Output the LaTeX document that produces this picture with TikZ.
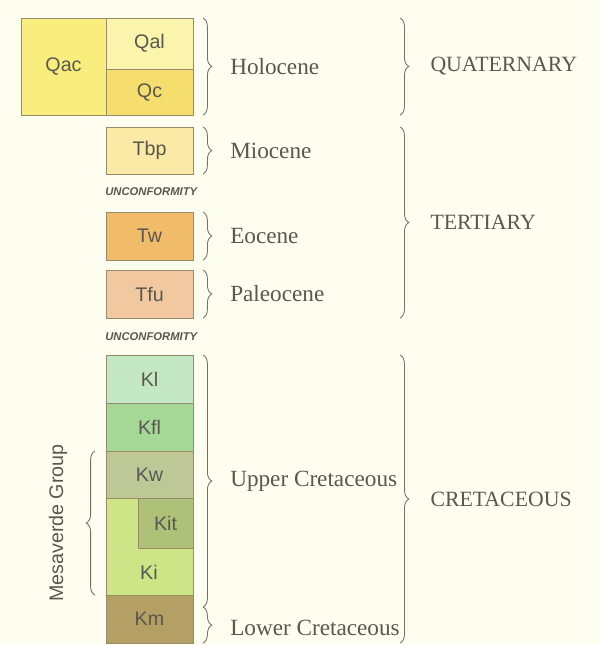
\documentclass[tikz,border=0pt]{standalone}
\usepackage{fontspec}
\setmainfont{Liberation Serif}
\setsansfont{Liberation Sans}
\usetikzlibrary{positioning, decorations.pathreplacing}

\definecolor{paper}{RGB}{253,253,240}
\definecolor{ink}{RGB}{88,88,80}
\definecolor{edge}{RGB}{150,140,105}
\definecolor{qaccol}{RGB}{249,238,125}
\definecolor{qalcol}{RGB}{250,244,172}
\definecolor{qccol}{RGB}{246,222,110}
\definecolor{tbpcol}{RGB}{250,234,165}
\definecolor{twcol}{RGB}{240,188,105}
\definecolor{tfucol}{RGB}{242,200,160}
\definecolor{klcol}{RGB}{195,232,195}
\definecolor{kflcol}{RGB}{165,215,150}
\definecolor{kwcol}{RGB}{190,200,150}
\definecolor{kicol}{RGB}{205,228,135}
\definecolor{kitcol}{RGB}{175,192,120}
\definecolor{kmcol}{RGB}{180,160,100}

\tikzstyle{unit} = [rectangle, draw=edge, line width=0.7pt, minimum width=2.175cm,
  minimum height=1.2cm, inner sep=0pt, outer sep=0pt, text=ink,
  font=\sffamily\fontsize{14}{16}\selectfont]
\tikzstyle{brace} = [decorate, decoration={brace, amplitude=0.22cm}, draw=ink!85,
  line width=0.6pt]
\tikzstyle{epoch} = [anchor=west, inner sep=0pt, xshift=0.67cm, text=ink,
  font=\fontsize{16.5}{19}\selectfont]
\tikzstyle{period} = [anchor=west, inner sep=0pt, xshift=0.75cm, text=ink,
  font=\fontsize{15.5}{18}\selectfont]
\tikzstyle{gap} = [anchor=west, inner sep=0pt, text=ink,
  font=\sffamily\bfseries\itshape\fontsize{8}{9}\selectfont]

\begin{document}
\begin{tikzpicture}[x=0.025cm, y=-0.025cm]

  \fill [paper] (0,0) rectangle (599,645);
  \useasboundingbox (0,0) rectangle (599,645);

  %% Quaternary block
  \node (qac) [unit, fill=qaccol, minimum width=2.125cm, minimum height=2.425cm,
    anchor=north west] at (21,18) {Qac};
  \node (qal) [unit, fill=qalcol, minimum height=1.275cm, anchor=north west] at (106,18) {Qal};
  \node (qc) [unit, fill=qccol, minimum height=1.15cm, below=0pt of qal] {Qc};

  %% Tertiary block
  \node (tbp) [unit, fill=tbpcol, minimum height=1.175cm, anchor=north west] at (106,127) {Tbp};
  \node (unc1) [gap] at (105,192) {UNCONFORMITY};
  \node (tw) [unit, fill=twcol, anchor=north west] at (106,212) {Tw};
  \node (tfu) [unit, fill=tfucol, anchor=north west] at (106,270) {Tfu};
  \node (unc2) [gap] at (105,337) {UNCONFORMITY};

  %% Cretaceous column
  \node (kl) [unit, fill=klcol, anchor=north west] at (106,355) {Kl};
  \node (kfl) [unit, fill=kflcol, below=0pt of kl] {Kfl};
  \node (kw) [unit, fill=kwcol, minimum height=1.175cm, below=0pt of kfl] {Kw};
  \node (ki) [unit, fill=kicol, minimum height=2.425cm, below=0pt of kw] {};
  \node (kitext) [text=ink, font=\sffamily\fontsize{14}{16}\selectfont] at (149,572) {Ki};
  \node (kit) [unit, fill=kitcol, minimum width=1.375cm, minimum height=1.25cm,
    anchor=north east] at (kw.south east) {Kit};
  \node (km) [unit, fill=kmcol, below=0pt of ki] {Km};

  %% Epoch braces
  \draw [brace] ([xshift=0.25cm]qal.north east) -- node[epoch] {Holocene} ([xshift=0.25cm]qc.south east);
  \draw [brace] ([xshift=0.25cm]tbp.north east) -- node[epoch] {Miocene} ([xshift=0.25cm]tbp.south east);
  \draw [brace] ([xshift=0.25cm]tw.north east) -- node[epoch] {Eocene} ([xshift=0.25cm]tw.south east);
  \draw [brace] ([xshift=0.25cm]tfu.north east) -- node[epoch] {Paleocene} ([xshift=0.25cm]tfu.south east);
  \draw [brace] ([xshift=0.25cm]kl.north east) -- node[epoch] {Upper Cretaceous}
    ([xshift=0.25cm, yshift=-0.3cm]ki.south east);
  \draw [brace] ([xshift=0.25cm, yshift=-0.3cm]km.north east) -- node[epoch, yshift=-0.08cm] {Lower Cretaceous}
    ([xshift=0.25cm]km.south east);

  %% Period braces
  \draw [brace] ([xshift=5.175cm]qal.north east) -- node[period] {QUATERNARY} ([xshift=5.175cm]qc.south east);
  \draw [brace] ([xshift=5.175cm]tbp.north east) -- node[period] {TERTIARY} ([xshift=5.175cm]tfu.south east);
  \draw [brace] ([xshift=5.175cm]kl.north east) -- node[period] {CRETACEOUS} ([xshift=5.175cm]km.south east);

  %% Mesaverde Group, brace on the left pointing outward
  \draw [brace] ([xshift=-0.275cm]ki.south west) -- node[xshift=-0.925cm, rotate=90, text=ink,
    font=\sffamily\fontsize{14}{16}\selectfont] {Mesaverde Group} ([xshift=-0.275cm]kw.north west);

\end{tikzpicture}
\end{document}
